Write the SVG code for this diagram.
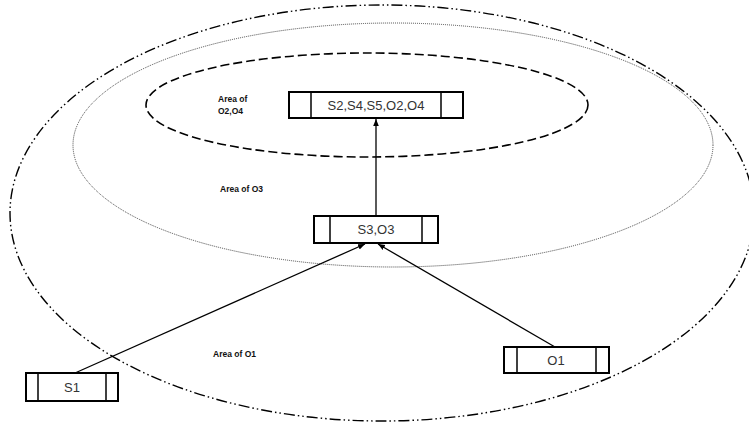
<svg xmlns="http://www.w3.org/2000/svg" width="749" height="425" viewBox="0 0 749 425">
<style>
.box{fill:#fff;stroke:#000;stroke-width:2}
.div{stroke:#000;stroke-width:1.5}
.lbl{font-family:"Liberation Sans",Arial,sans-serif;font-size:13px;fill:#333;text-anchor:middle}
.area{font-family:"Liberation Sans",Arial,sans-serif;font-size:8.5px;font-weight:bold;fill:#111}
.conn{stroke:#000;stroke-width:1.3;fill:none}
</style>
<defs>
<marker id="ah" viewBox="0 0 10 10" refX="10" refY="5" markerWidth="7" markerHeight="7" orient="auto" markerUnits="userSpaceOnUse">
<path d="M0,1 L10,5 L0,9 Z" fill="#000"/>
</marker>
</defs>
<rect width="749" height="425" fill="#fff"/>
<g id="regions">
<ellipse id="area-o1" cx="382" cy="213" rx="372" ry="208" fill="none" stroke="#000" stroke-width="1.4" stroke-dasharray="11 3 1.5 3 1.5 3"/>
<ellipse id="area-o3" cx="393" cy="145" rx="320" ry="122" fill="none" stroke="#444" stroke-width="1" stroke-dasharray="1 1"/>
<ellipse id="area-o2o4" cx="367" cy="105" rx="221" ry="52" fill="none" stroke="#000" stroke-width="1.6" stroke-dasharray="9 4"/>
<text class="area" x="218" y="102">Area of</text>
<text class="area" x="218" y="114">O2,O4</text>
<text class="area" x="220" y="192">Area of O3</text>
<text class="area" x="213" y="357">Area of O1</text>
</g>
<g id="connectors">
<line class="conn" x1="75" y1="373" x2="365" y2="244" marker-end="url(#ah)"/>
<line class="conn" x1="555" y1="347" x2="378" y2="244" marker-end="url(#ah)"/>
<line class="conn" x1="376" y1="216" x2="376" y2="119" marker-end="url(#ah)"/>
</g>
<g id="node-s2s4s5o2o4">
<rect class="box" x="289" y="92" width="174" height="26"/>
<line class="div" x1="311" y1="92" x2="311" y2="118"/>
<line class="div" x1="441" y1="92" x2="441" y2="118"/>
<text class="lbl" x="376" y="110">S2,S4,S5,O2,O4</text>
</g>
<g id="node-s3o3">
<rect class="box" x="314" y="216" width="124" height="27"/>
<line class="div" x1="330" y1="216" x2="330" y2="243"/>
<line class="div" x1="422" y1="216" x2="422" y2="243"/>
<text class="lbl" x="376" y="234">S3,O3</text>
</g>
<g id="node-s1">
<rect class="box" x="26" y="373" width="92" height="28"/>
<line class="div" x1="38" y1="373" x2="38" y2="401"/>
<line class="div" x1="106" y1="373" x2="106" y2="401"/>
<text class="lbl" x="72" y="392">S1</text>
</g>
<g id="node-o1">
<rect class="box" x="504" y="347" width="105" height="26"/>
<line class="div" x1="517" y1="347" x2="517" y2="373"/>
<line class="div" x1="596" y1="347" x2="596" y2="373"/>
<text class="lbl" x="556" y="365">O1</text>
</g>
</svg>
